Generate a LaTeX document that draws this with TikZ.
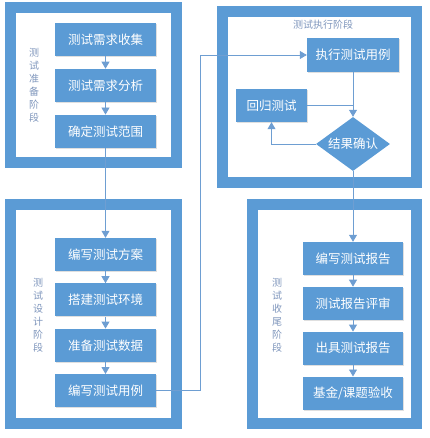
\documentclass[tikz,border=0pt]{standalone}
\usepackage{fontspec}
\setmainfont{Noto Sans CJK SC}
\usetikzlibrary{positioning,arrows.meta,shapes.geometric,shadows}
\definecolor{stageblue}{HTML}{5B9BD5}
\definecolor{linkblue}{HTML}{6E9ED2}
\definecolor{tagblue}{HTML}{7F96BC}

\begin{document}
\begin{tikzpicture}[
  x=1pt, y=-1pt,
  font=\fontsize{12.5}{15}\selectfont,
  frame/.style={draw=stageblue, line width=11pt, inner sep=0},
  task/.style={fill=stageblue, text=white, minimum width=101pt, minimum height=33pt, inner sep=0,
    drop shadow={shadow xshift=1pt, shadow yshift=-1pt, opacity=0.25}},
  tag/.style={text=tagblue, align=center, inner sep=0, font=\fontsize{10}{13}\selectfont},
  link/.style={linkblue, line width=0.8pt},
  arr/.style={link, -{Triangle[width=8pt,length=7pt]}}
]
\useasboundingbox (0,0) rectangle (429,438);

% stage frames
\node[frame, minimum width=166pt, minimum height=155pt] (frPrep) at (93.5,85) {};
\node[frame, minimum width=166pt, minimum height=219pt] (frDesign) at (93.5,314) {};
\node[frame, minimum width=194pt, minimum height=171pt] (frRun) at (319.5,97) {};
\node[frame, minimum width=164pt, minimum height=219pt] (frClose) at (334.5,314) {};

% stage names
\node[tag] (tagPrep) at (34,85.5) {测\\试\\准\\备\\阶\\段};
\node[tag] (tagDesign) at (38,315.5) {测\\试\\设\\计\\阶\\段};
\node[tag] (tagClose) at (277,315.5) {测\\试\\收\\尾\\阶\\段};
\node[tag] (tagRun) at (323,25) {测试执行阶段};

% preparation
\node[task] (s1) at (105.5,39.5) {测试需求收集};
\node[task, below=12.5pt of s1] (s2) {测试需求分析};
\node[task, below=12.5pt of s2] (s3) {确定测试范围};

% design
\node[task] (d1) at (105.5,254.5) {编写测试方案};
\node[task, below=12pt of d1] (d2) {搭建测试环境};
\node[task, below=12pt of d2] (d3) {准备测试数据};
\node[task, below=12pt of d3] (d4) {编写测试用例};

% execution
\node[task, minimum width=92pt, minimum height=34pt] (exec) at (353,55) {执行测试用例};
\node[task, minimum width=71pt] (regr) at (271.5,105.5) {回归测试};
\node[diamond, fill=stageblue, minimum width=74pt, minimum height=54pt, inner sep=0,
  label={[text=white]center:结果确认}] (check) at (353,144) {};

% closing
\node[task, minimum width=100pt] (r1) at (353,258.5) {编写测试报告};
\node[task, minimum width=100pt, below=11.5pt of r1] (r2) {测试报告评审};
\node[task, minimum width=100pt, below=11.5pt of r2] (r3) {出具测试报告};
\node[task, minimum width=100pt, below=11.5pt of r3] (r4) {基金/课题验收};

\draw[arr] (s1) -- (s2);
\draw[arr] (s2) -- (s3);
\draw[arr] (s3) -- (d1);
\draw[arr] (d1) -- (d2);
\draw[arr] (d2) -- (d3);
\draw[arr] (d3) -- (d4);
\draw[arr] (d4.east) -- ++(44,0) |- (exec.west);
\draw[arr] (exec.south) -- (check.north);
\draw[link] (regr.east) -- (regr.east -| exec.south);
\draw[arr] (check.west) -| (regr.south);
\draw[arr] (check.south) -- (r1.north);
\draw[arr] (r1) -- (r2);
\draw[arr] (r2) -- (r3);
\draw[arr] (r3) -- (r4);
\end{tikzpicture}
\end{document}
